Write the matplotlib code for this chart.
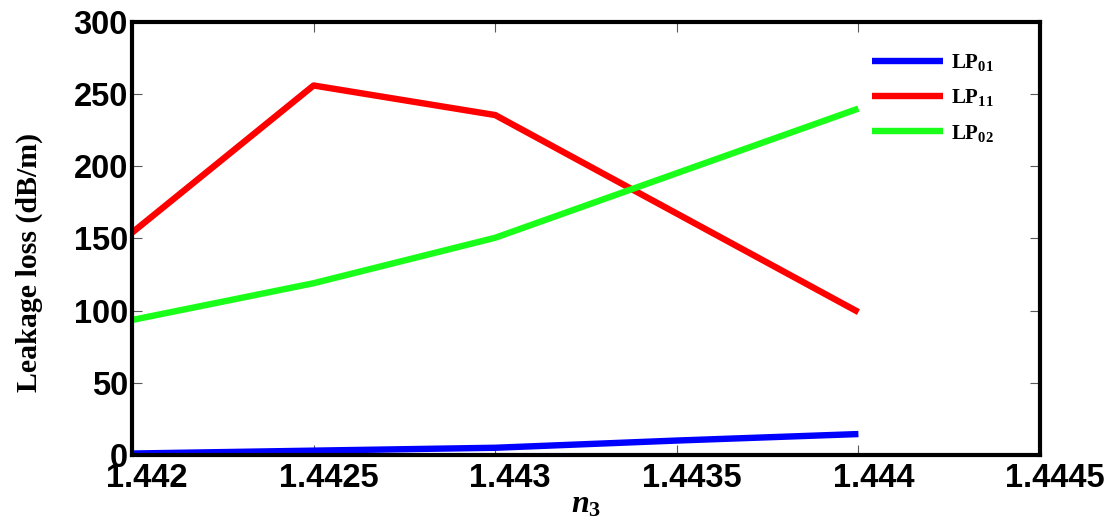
import matplotlib
matplotlib.use("Agg")
import matplotlib.pyplot as plt
import matplotlib.transforms as mtransforms

plt.rcParams['mathtext.fontset'] = 'custom'
plt.rcParams['mathtext.rm'] = 'Liberation Serif:bold'
plt.rcParams['mathtext.bf'] = 'Liberation Serif:bold'
plt.rcParams['mathtext.it'] = 'Liberation Serif:italic:bold'

# data
n3 = [1.442, 1.4425, 1.443, 1.444]
n3_lp01 = [1.442, 1.4425, 1.443, 1.4435, 1.444]
lp01 = [1.0, 3.0, 5.0, 10.0, 14.5]
lp11 = [154, 256, 235.5, 99]
lp02 = [93.5, 119, 150.5, 240]

x_ticks = [1.442, 1.4425, 1.443, 1.4435, 1.444, 1.4445]
x_labels = ["1.442", "1.4425", "1.443", "1.4435", "1.444", "1.4445"]
y_ticks = [0, 50, 100, 150, 200, 250, 300]

fig = plt.figure(figsize=(11.14, 5.22), dpi=100)
ax = fig.add_axes([0.1185, 0.1284, 0.9336 - 0.1185, 0.9579 - 0.1284])

ax.plot(n3_lp01, lp01, color=(0, 0, 1), lw=4.6, label=r"$\mathrm{LP_{01}}$", solid_capstyle='butt')
ax.plot(n3, lp11, color=(1, 0, 0), lw=4.6, label=r"$\mathrm{LP_{11}}$", solid_capstyle='butt')
ax.plot(n3, lp02, color=(0.1, 1, 0.1), lw=4.6, label=r"$\mathrm{LP_{02}}$", solid_capstyle='butt')

ax.set_xlim(1.442, 1.4445)
ax.set_ylim(0, 300)
ax.set_xticks(x_ticks)
ax.set_xticklabels(x_labels)
ax.set_yticks(y_ticks)

for s in ax.spines.values():
    s.set_linewidth(3.0)
    s.set_color('black')

ax.tick_params(direction='in', length=7, width=0.8, color='0.35',
               top=True, right=True, labelsize=23.5)
ax.tick_params(axis='x', pad=6)
ax.tick_params(axis='y', pad=3)
for lab in ax.get_xticklabels() + ax.get_yticklabels():
    lab.set_fontfamily('Liberation Sans')
    lab.set_fontweight('bold')

# MATLAB export shifts x tick labels slightly to the right
offset = mtransforms.ScaledTranslation(15 / 100, 0, fig.dpi_scale_trans)
for lab in ax.get_xticklabels():
    lab.set_transform(lab.get_transform() + offset)

ax.set_ylabel("Leakage loss (dB/m)", fontfamily='Liberation Serif',
              fontweight='bold', fontsize=21.5)
ax.yaxis.set_label_coords(-0.098, 0.445)
ax.set_xlabel(r"$\mathit{n}_{\mathbf{3}}$", fontsize=23)
ax.xaxis.label.set_va('bottom')
ax.xaxis.set_label_coords(0.5, -0.148)

ax.legend(loc='upper left', bbox_to_anchor=(0.815, 0.93), frameon=False,
          fontsize=15, handlelength=3.4, labelspacing=0.68, handletextpad=0.4,
          borderpad=0, borderaxespad=0)

fig.savefig("out.png", dpi=100)
